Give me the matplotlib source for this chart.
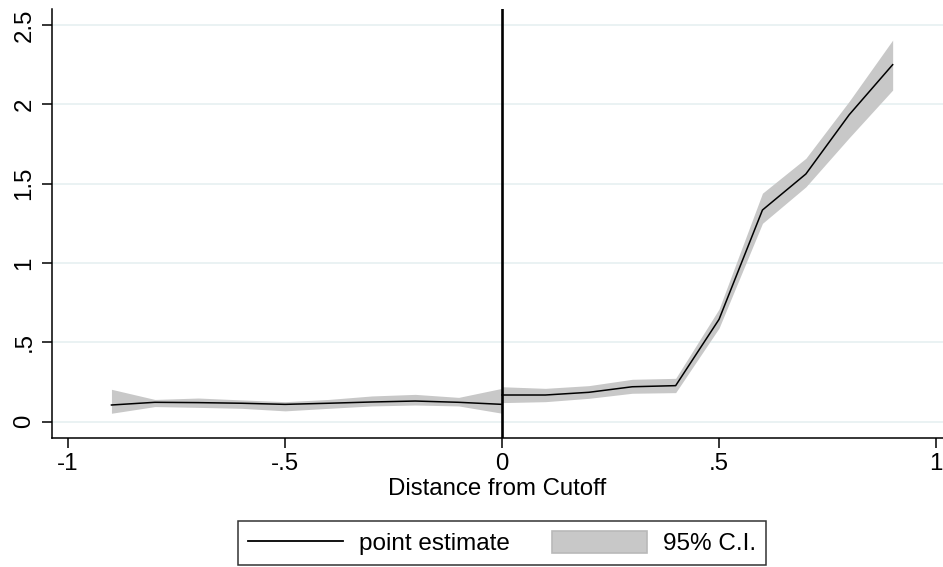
import matplotlib
matplotlib.use("Agg")
import matplotlib.pyplot as plt
from matplotlib.patches import Patch
from matplotlib.lines import Line2D

plt.rcParams['font.family'] = ['Liberation Sans', 'DejaVu Sans']

# Bins below the cutoff
x_left = [-0.9, -0.8, -0.7, -0.6, -0.5, -0.4, -0.3, -0.2, -0.1, 0.0]
est_left = [0.105, 0.122, 0.120, 0.116, 0.109, 0.116, 0.124, 0.130, 0.122, 0.109]
lo_left = [0.053, 0.095, 0.090, 0.084, 0.068, 0.084, 0.099, 0.105, 0.099, 0.053]
hi_left = [0.204, 0.140, 0.149, 0.137, 0.126, 0.140, 0.162, 0.172, 0.153, 0.210]

# Bins above the cutoff
x_right = [0.0, 0.1, 0.2, 0.3, 0.4, 0.5, 0.6, 0.7, 0.8, 0.9]
est_right = [0.168, 0.168, 0.185, 0.220, 0.227, 0.645, 1.334, 1.561, 1.935, 2.250]
lo_right = [0.120, 0.126, 0.147, 0.179, 0.183, 0.590, 1.250, 1.480, 1.790, 2.090]
hi_right = [0.220, 0.210, 0.227, 0.267, 0.273, 0.710, 1.440, 1.660, 2.020, 2.405]

x_ticks = [-1, -0.5, 0, 0.5, 1]
x_tick_labels = ["-1", "-.5", "0", ".5", "1"]
y_ticks = [0, 0.5, 1, 1.5, 2, 2.5]
y_tick_labels = ["0", ".5", "1", "1.5", "2", "2.5"]

band_color = "#c8c8c8"
grid_color = "#eaf2f3"
text_size = 17.3

fig = plt.figure(figsize=(9.43, 5.67), dpi=100)
ax = fig.add_axes([52 / 943, 1 - 438 / 567, 1 - 52 / 943, (438 - 9) / 567])

for xs, lo, hi, est in [(x_left, lo_left, hi_left, est_left),
                        (x_right, lo_right, hi_right, est_right)]:
    ax.fill_between(xs, lo, hi, color=band_color, linewidth=0, zorder=2)
    ax.plot(xs, est, color="black", linewidth=1.1, zorder=3)

ax.axvline(0, color="black", linewidth=1.9, zorder=4)

ax.set_xlim(-1.037, 1.016)
ax.set_ylim(-0.103, 2.601)

ax.set_yticks(y_ticks)
ax.set_yticklabels(y_tick_labels, rotation=90, va="center")
ax.set_xticks(x_ticks)
ax.set_xticklabels(x_tick_labels)

ax.grid(axis="y", color=grid_color, linewidth=1.4, zorder=0)
ax.set_axisbelow(True)

for side in ("top", "right"):
    ax.spines[side].set_visible(False)
for side in ("left", "bottom"):
    ax.spines[side].set_linewidth(1.1)

ax.tick_params(axis="both", direction="out", length=7, width=1.1,
               labelsize=text_size, colors="black")
ax.tick_params(axis="y", pad=5)
ax.tick_params(axis="x", pad=4)

ax.set_xlabel("Distance from Cutoff", fontsize=text_size, labelpad=2)

handles = [Line2D([], [], color="black", linewidth=1.3),
           Patch(facecolor=band_color, edgecolor="#b9b9b9", linewidth=1.2)]
leg = fig.legend(handles, ["point estimate", "95% C.I."],
                 loc="center", bbox_to_anchor=(502 / 943, 1 - 543 / 567),
                 ncol=2, fontsize=17.5, frameon=True, fancybox=False,
                 handlelength=3.9, handleheight=1.05, handletextpad=0.65,
                 columnspacing=1.75, borderpad=0.4, borderaxespad=0)
leg.get_frame().set_edgecolor("black")
leg.get_frame().set_linewidth(1.1)

fig.savefig("out.png", dpi=100)
